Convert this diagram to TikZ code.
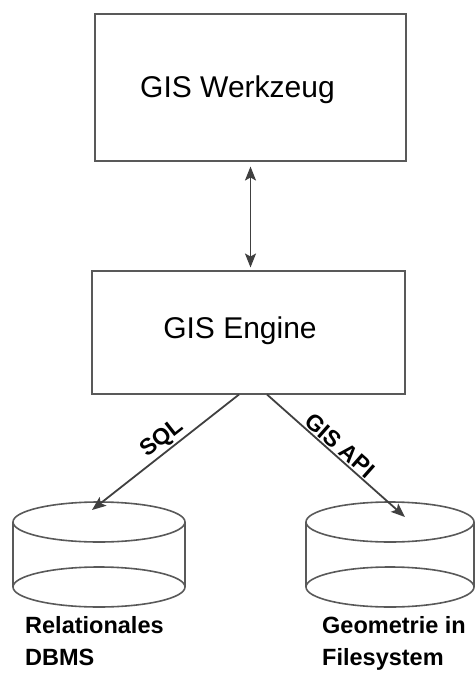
\documentclass[tikz,border=0pt]{standalone}
\usepackage{fontspec}
\setmainfont{Liberation Sans}
\usetikzlibrary{arrows.meta}

\tikzset{
  box/.style={draw=black!65, line width=2pt, inner sep=0pt},
  boxtext/.style={font=\fontsize{30}{32}\selectfont, inner sep=0pt, anchor=base},
  disc/.style={draw=black!65, line width=1.6pt},
  flow/.style={draw=black!75, line width=1.8pt, -{Stealth[length=14pt, width=11pt, inset=3pt]}},
  biflow/.style={draw=black!75, line width=1.8pt,
    {Stealth[length=14pt, width=11pt, inset=3pt]}-{Stealth[length=14pt, width=11pt, inset=3pt]}},
  edgelabel/.style={font=\bfseries\fontsize{23}{25}\selectfont, sloped, above, inner sep=1.5pt},
  dblabel/.style={font=\bfseries\fontsize{23.5}{32}\selectfont, align=left,
    anchor=north west, inner sep=0pt},
}

\begin{document}
\begin{tikzpicture}[x=1pt, y=-1pt]
  \useasboundingbox (0,0) rectangle (475,673);

  % the two layers
  \node[box, minimum width=311pt, minimum height=147pt] (tool) at (250.5,87) {};
  \node[boxtext] (tooltext) at (237.5,97.5) {GIS Werkzeug};

  \node[box, minimum width=313pt, minimum height=123pt] (engine) at (248.5,332) {};
  \node[boxtext] (enginetext) at (240,338.5) {GIS Engine};

  \draw[biflow, shorten <=5pt, shorten >=2pt] (tool.south) -- (tool.south |- engine.north);

  % storage: relational DBMS
  \draw[disc] (99,522) ellipse [x radius=86pt, y radius=20pt];
  \draw[disc] (13,522) -- (13,587) (185,522) -- (185,587);
  \draw[disc] (99,587) ellipse [x radius=86pt, y radius=20pt];
  \node[dblabel] (dbms) at (25,616) {Relationales\\DBMS};

  % storage: geometry files
  \draw[disc] (390,522) ellipse [x radius=84pt, y radius=20pt];
  \draw[disc] (306,522) -- (306,587) (474,522) -- (474,587);
  \draw[disc] (390,587) ellipse [x radius=84pt, y radius=20pt];
  \node[dblabel] (files) at (322,616) {Geometrie in\\Filesystem};

  % access paths
  \coordinate (sqlout) at ([xshift=-9.5pt]engine.south);
  \coordinate (apiout) at ([xshift=18.5pt]engine.south);
  \coordinate (dbmsin) at (92,510);
  \coordinate (filesin) at (405,517);

  \draw[flow] (sqlout) -- node[edgelabel, pos=0.47] (sql) {SQL} (dbmsin);
  \draw[flow] (apiout) -- node[edgelabel, pos=0.48] (api) {GIS API} (filesin);
\end{tikzpicture}
\end{document}
